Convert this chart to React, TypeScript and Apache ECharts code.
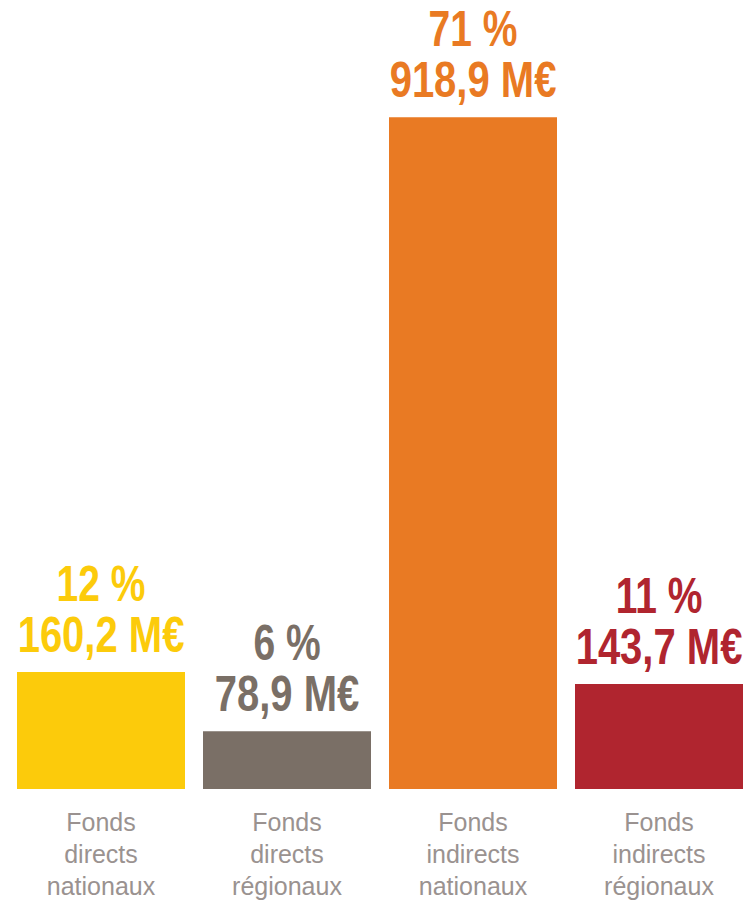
import React, { useEffect, useRef } from "react";
import * as echarts from "echarts";

const categories = [
  "Fonds\ndirects\nnationaux",
  "Fonds\ndirects\nrégionaux",
  "Fonds\nindirects\nnationaux",
  "Fonds\nindirects\nrégionaux",
];
const amounts = [160.2, 78.9, 918.9, 143.7];
const amountLabels = ["160,2 M€", "78,9 M€", "918,9 M€", "143,7 M€"];
const percents = ["12 %", "6 %", "71 %", "11 %"];
const colors = ["#FCCB0B", "#7A6F66", "#E97A23", "#B0252F"];

export default function App() {
  const ref = useRef<HTMLDivElement>(null);
  useEffect(() => {
    if (!ref.current) return;
    const chart = echarts.init(ref.current, undefined, { renderer: "svg" });
    const labelFont = "bold 50px 'Liberation Sans', Arial, sans-serif";
    chart.setOption({
      animation: false,
      backgroundColor: "#ffffff",
      grid: { left: 8, right: 0, top: 58, bottom: 110 },
      xAxis: {
        type: "category",
        data: categories,
        axisLine: { show: false },
        axisTick: { show: false },
        axisLabel: {
          interval: 0,
          margin: 17,
          fontFamily: "'Liberation Sans', Arial, sans-serif",
          fontSize: 25,
          lineHeight: 32,
          color: "#9a9290",
        },
      },
      yAxis: {
        type: "value",
        min: 0,
        max: 1000,
        show: false,
        splitLine: { show: false },
      },
      series: [
        {
          type: "bar",
          barWidth: 168,
          data: amounts.map((v, i) => ({
            value: v,
            itemStyle: { color: colors[i] },
          })),
        },
        {
          type: "custom",
          data: amounts.map((v, i) => [i, v]),
          renderItem: (params: any, api: any) => {
            const i = params.dataIndex;
            const pt = api.coord([api.value(0), api.value(1)]);
            const x = pt[0];
            const top = pt[1];
            return {
              type: "group",
              children: [
                {
                  type: "text",
                  x,
                  y: top - 88.3,
                  scaleX: 0.78,
                  style: {
                    text: percents[i],
                    font: labelFont,
                    fill: colors[i],
                    align: "center",
                    verticalAlign: "middle",
                  },
                },
                {
                  type: "text",
                  x,
                  y: top - 37.3,
                  scaleX: 0.8,
                  style: {
                    text: amountLabels[i],
                    font: labelFont,
                    fill: colors[i],
                    align: "center",
                    verticalAlign: "middle",
                  },
                },
              ],
            };
          },
        },
      ],
    });
    return () => chart.dispose();
  }, []);
  return (
    <div
      ref={ref}
      style={{ position: "absolute", left: 0, top: 0, width: 752, height: 902 }}
    />
  );
}
